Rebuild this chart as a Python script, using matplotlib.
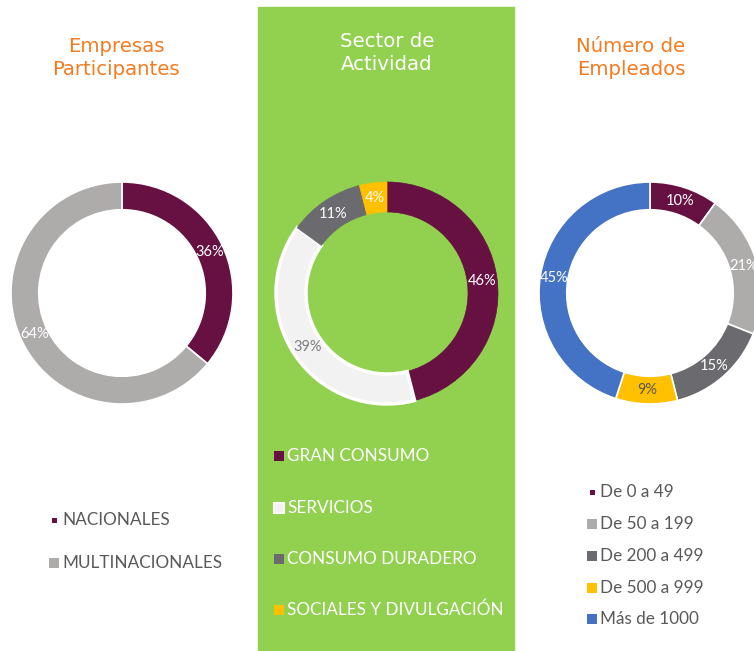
import matplotlib.pyplot as plt
from matplotlib.patches import Rectangle

plt.rcParams['font.family'] = ['Lato', 'DejaVu Sans']

# data
emp_labels = ['NACIONALES', 'MULTINACIONALES']
emp_values = [36, 64]
emp_colors = ['#661141', '#AEABAB']

sec_labels = ['GRAN CONSUMO', 'SERVICIOS', 'CONSUMO DURADERO', 'SOCIALES Y DIVULGACIÓN']
sec_values = [46, 39, 11, 4]
sec_colors = ['#661141', '#F2F2F2', '#6B6A6E', '#FFC000']

num_labels = ['De 0 a 49', 'De 50 a 199', 'De 200 a 499', 'De 500 a 999', 'Más de 1000']
num_values = [10, 21, 15, 9, 45]
num_colors = ['#661141', '#AEABAB', '#6B6A6E', '#FFC000', '#4472C4']

W, H = 754, 651
ORANGE = '#F47B20'
GREEN = '#92D050'
TXT = '#595959'

fig = plt.figure(figsize=(W / 100, H / 100), dpi=100)


def fx(x):
    return x / W


def fy(y):
    return 1 - y / H


# green panel behind the middle chart
fig.add_artist(Rectangle((fx(258), fy(651)), 256 / W, 644 / H,
                         transform=fig.transFigure, color=GREEN, zorder=0))


def donut(cx, cy, r, values, colors, width, label_colors, edge=None):
    m = 1.02
    ax = fig.add_axes([fx(cx - r * m), fy(cy + r * m), 2 * r * m / W, 2 * r * m / H])
    wedges, texts, autotexts = ax.pie(
        values, colors=colors, startangle=90, counterclock=False,
        autopct='%d%%', pctdistance=1 - width / 2,
        wedgeprops=dict(width=width, edgecolor='white', linewidth=1.2),
        textprops=dict(fontsize=10.5, color='white'))
    if edge is not None:
        for i, w in enumerate(wedges):
            if i not in edge:
                w.set_edgecolor(colors[i])
                w.set_linewidth(0.5)
            else:
                w.set_linewidth(2.5)
    for t, c in zip(autotexts, label_colors):
        t.set_color(c)
    ax.set_xlim(-m, m)
    ax.set_ylim(-m, m)
    ax.axis('off')
    return ax


donut(122, 293, 111, emp_values, emp_colors, 0.25, ['white', 'white'])
donut(387, 293, 111, sec_values, sec_colors, 0.27,
      ['white', '#7F7F7F', 'white', 'white'], edge=[1])
donut(650, 293, 111, num_values, num_colors, 0.25,
      ['white', 'white', 'white', TXT, 'white'])

# titles
tfont = dict(fontsize=14.2, ha='center', va='center', linespacing=1.3,
             family=['DejaVu Sans'])
fig.text(fx(116), fy(58), 'Empresas\nParticipantes', color=ORANGE, **tfont)
fig.text(fx(387), fy(53), 'Sector de\nActividad', color='white', **tfont)
fig.text(fx(631), fy(58), 'Número de\nEmpleados', color=ORANGE, **tfont)


def legend(x_box, x_txt, ys, labels, colors, txt_color, small_first=False, edges=None):
    for i, (y, lab, col) in enumerate(zip(ys, labels, colors)):
        s = 5 if (small_first and i == 0) else 10
        ec = col
        if edges is not None and i in edges:
            ec = 'white'
        fig.add_artist(Rectangle((fx(x_box - s / 2), fy(y + s / 2)), s / W, s / H,
                                 transform=fig.transFigure, facecolor=col,
                                 edgecolor=ec, linewidth=1.5 if ec == 'white' else 0))
        fig.text(fx(x_txt), fy(y), lab, color=txt_color, fontsize=12.3,
                 ha='left', va='center')


legend(54, 62, [520, 563], emp_labels, emp_colors, TXT, small_first=True)
legend(279, 287, [456, 508, 559, 610], sec_labels, sec_colors, 'white', edges=[1])
legend(592, 600, [492, 524, 556, 588, 619], num_labels, num_colors, TXT, small_first=True)

fig.savefig('out.png', dpi=100)
